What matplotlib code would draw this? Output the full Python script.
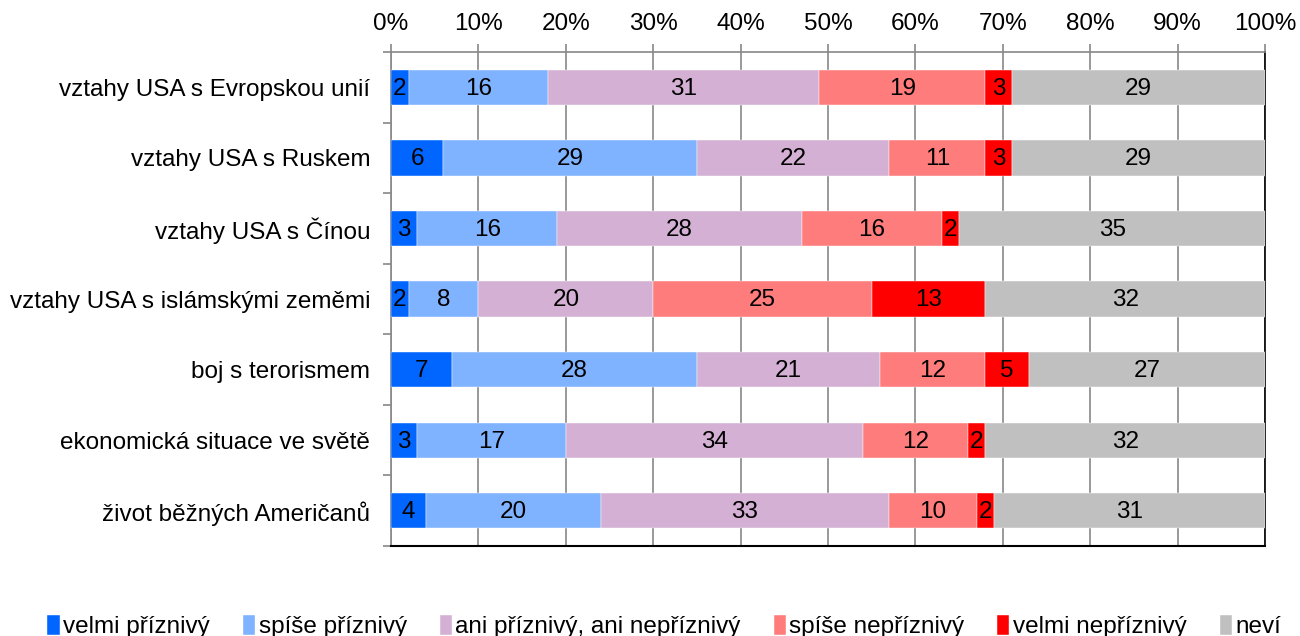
import numpy as np
import matplotlib.pyplot as plt
from matplotlib.ticker import FixedLocator

plt.rcParams['font.family'] = ['Liberation Sans', 'DejaVu Sans']

kategorie = [
    'vztahy USA s Evropskou unií',
    'vztahy USA s Ruskem',
    'vztahy USA s Čínou',
    'vztahy USA s islámskými zeměmi',
    'boj s terorismem',
    'ekonomická situace ve světě',
    'život běžných Američanů',
]
odpovedi = ['velmi příznivý', 'spíše příznivý', 'ani příznivý, ani nepříznivý',
            'spíše nepříznivý', 'velmi nepříznivý', 'neví']
barvy = ['#0066FF', '#7FB2FF', '#D4B0D4', '#FF7C7C', '#FF0000', '#C0C0C0']

velmi_priznivy = [2, 6, 3, 2, 7, 3, 4]
spise_priznivy = [16, 29, 16, 8, 28, 17, 20]
ani_ani = [31, 22, 28, 20, 21, 34, 33]
spise_nepriznivy = [19, 11, 16, 25, 12, 12, 10]
velmi_nepriznivy = [3, 3, 2, 13, 5, 2, 2]
nevi = [29, 29, 35, 32, 27, 32, 31]

serie = [velmi_priznivy, spise_priznivy, ani_ani, spise_nepriznivy, velmi_nepriznivy, nevi]

fs = 17.5

fig = plt.figure(figsize=(13, 6.36), dpi=100)
ax = fig.add_axes([0.3008, 0.1415, 0.6723, 0.7767])

y = np.arange(len(kategorie))
zleva = np.zeros(len(kategorie))
for hodnoty, nazev, barva in zip(serie, odpovedi, barvy):
    hodnoty = np.array(hodnoty, dtype=float)
    ax.barh(y, hodnoty, left=zleva, height=0.5, color=barva, label=nazev,
            edgecolor='white', linewidth=0.3, zorder=3)
    for yi, l, v in zip(y, zleva, hodnoty):
        ax.text(l + v / 2, yi + 0.02, f'{v:.0f}', ha='center', va='center',
                fontsize=fs, color='black', zorder=4)
    zleva += hodnoty

ax.set_xlim(0, 100)
ax.set_ylim(len(kategorie) - 0.5, -0.5)
ax.set_yticks(y)
ax.set_yticklabels(kategorie, fontsize=fs)
ax.yaxis.set_minor_locator(FixedLocator(np.arange(-0.5, len(kategorie), 1)))
ax.tick_params(axis='y', which='major', length=0, pad=15)
ax.tick_params(axis='y', which='minor', length=6, color='#888888', width=1.2)

ax.xaxis.tick_top()
ax.set_xticks(np.arange(0, 101, 10))
ax.set_xticklabels([f'{t}%' for t in range(0, 101, 10)], fontsize=fs)
ax.tick_params(axis='x', length=6, color='#888888', width=1.2, pad=6)
ax.grid(axis='x', color='#888888', linewidth=1.2, zorder=0)

for s in ['top', 'left']:
    ax.spines[s].set_color('#888888')
    ax.spines[s].set_linewidth(1.2)
ax.spines['bottom'].set_color('black')
ax.spines['bottom'].set_linewidth(1.5)
ax.spines['right'].set_color('black')
ax.spines['right'].set_linewidth(1.2)

fig.legend(loc='lower center', bbox_to_anchor=(0.511, -0.038), ncol=6, frameon=False,
           fontsize=fs, handlelength=0.5, handleheight=0.9, handletextpad=0.15,
           columnspacing=1.35)

fig.savefig('out.png', dpi=100)
